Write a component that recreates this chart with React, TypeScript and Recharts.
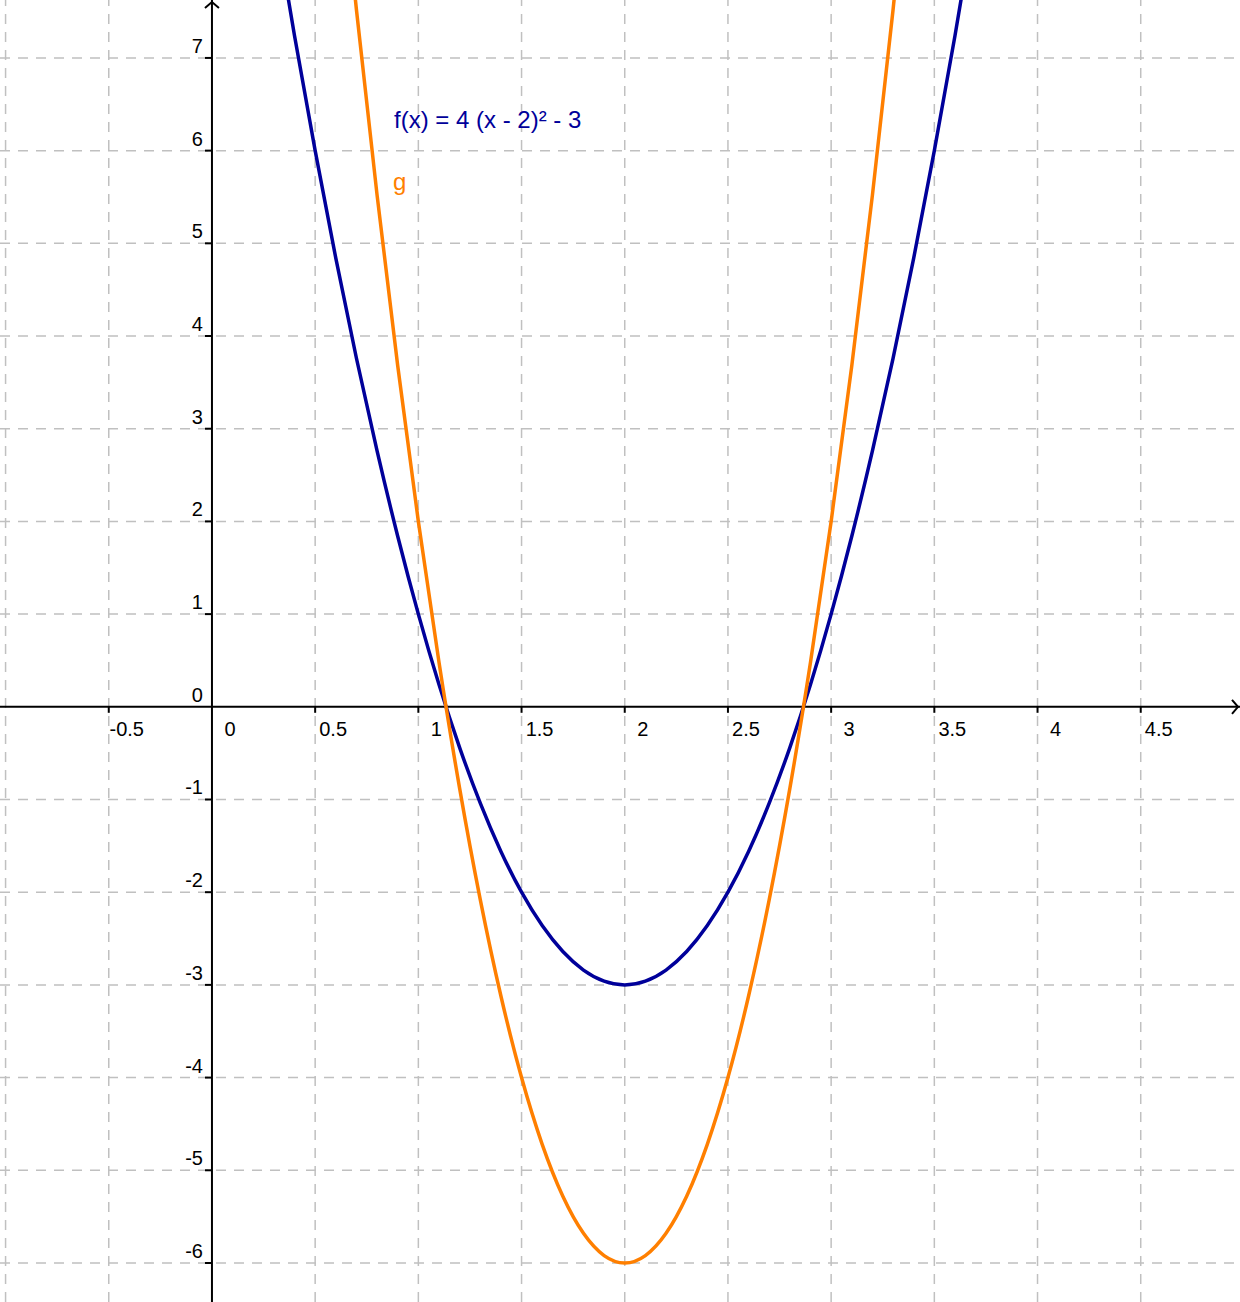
import { LineChart, Line, XAxis, YAxis, ReferenceLine, ReferenceDot } from 'recharts';

// visible window of the graph
const X_MIN = -1.027;
const X_MAX = 4.981;
const Y_MIN = -6.421;
const Y_MAX = 7.625;

const gridX = [-1, -0.5, 0.5, 1, 1.5, 2, 2.5, 3, 3.5, 4, 4.5];
const gridY = [-6, -5, -4, -3, -2, -1, 1, 2, 3, 4, 5, 6, 7];
const xTickLabels = [-0.5, 0, 0.5, 1, 1.5, 2, 2.5, 3, 3.5, 4, 4.5];
const yTickLabels = [-6, -5, -4, -3, -2, -1, 0, 1, 2, 3, 4, 5, 6, 7];

// f(x) = 4 (x - 2)² - 3
const fX = [0.3, 0.4, 0.5, 0.6, 0.7, 0.8, 0.9, 1.0, 1.1, 1.2, 1.3, 1.4, 1.5, 1.6, 1.7, 1.8, 1.9, 2.0,
  2.1, 2.2, 2.3, 2.4, 2.5, 2.6, 2.7, 2.8, 2.9, 3.0, 3.1, 3.2, 3.3, 3.4, 3.5, 3.6, 3.7];
const fY = [8.56, 7.24, 6, 4.84, 3.76, 2.76, 1.84, 1, 0.24, -0.44, -1.04, -1.56, -2, -2.36, -2.64, -2.84, -2.96, -3,
  -2.96, -2.84, -2.64, -2.36, -2, -1.56, -1.04, -0.44, 0.24, 1, 1.84, 2.76, 3.76, 4.84, 6, 7.24, 8.56];

// g, the orange curve
const gX = [0.6, 0.7, 0.8, 0.9, 1.0, 1.1, 1.2, 1.3, 1.4, 1.5, 1.6, 1.7, 1.8, 1.9, 2.0,
  2.1, 2.2, 2.3, 2.4, 2.5, 2.6, 2.7, 2.8, 2.9, 3.0, 3.1, 3.2, 3.3, 3.4];
const gY = [9.68, 7.52, 5.52, 3.68, 2, 0.48, -0.88, -2.08, -3.12, -4, -4.72, -5.28, -5.68, -5.92, -6,
  -5.92, -5.68, -5.28, -4.72, -4, -3.12, -2.08, -0.88, 0.48, 2, 3.68, 5.52, 7.52, 9.68];

const fLabel = { x: 0.882, y: 6.245, text: 'f(x) = 4 (x - 2)² - 3' };
const gLabel = { x: 0.877, y: 5.574, text: 'g' };

const BLUE = '#00009a';
const ORANGE = '#ff7f00';
const GRID = '#c0c0c0';
const FONT = '"Liberation Sans", Arial, sans-serif';

const fData = fX.map((x, i) => ({ x, y: fY[i] }));
const gData = gX.map((x, i) => ({ x, y: gY[i] }));

export default function App() {
  return (
    <div style={{ position: 'absolute', left: 0, top: 0, width: 1240, height: 1302, background: '#fff' }}>
      <LineChart width={1240} height={1302} margin={{ top: 0, right: 0, bottom: 0, left: 0 }}>
        <XAxis type="number" dataKey="x" domain={[X_MIN, X_MAX]} allowDataOverflow hide />
        <YAxis type="number" dataKey="y" domain={[Y_MIN, Y_MAX]} allowDataOverflow hide />

        {/* dashed grid */}
        {gridX.map((v) => (
          <ReferenceLine key={'gx' + v} x={v} stroke={GRID} strokeWidth={1.5} strokeDasharray="10 8" />
        ))}
        {gridY.map((v) => (
          <ReferenceLine key={'gy' + v} y={v} stroke={GRID} strokeWidth={1.5} strokeDasharray="10 8" />
        ))}

        {/* axes through the origin */}
        <ReferenceLine y={0} stroke="#000" strokeWidth={2} />
        <ReferenceLine x={0} stroke="#000" strokeWidth={2} />

        {/* x tick marks and labels */}
        {xTickLabels.map((t) => (
          <ReferenceDot
            key={'xt' + t}
            x={t}
            y={0}
            r={0}
            shape={(p: any) => (
              <g>
                {t !== 0 && <line x1={p.cx} y1={p.cy} x2={p.cx} y2={p.cy + 6} stroke="#000" strokeWidth={2} />}
                <text x={p.cx + 18} y={p.cy + 29} textAnchor="middle" fontFamily={FONT} fontSize={20} fill="#000">
                  {String(t)}
                </text>
              </g>
            )}
          />
        ))}

        {/* y tick marks and labels */}
        {yTickLabels.map((t) => (
          <ReferenceDot
            key={'yt' + t}
            x={0}
            y={t}
            r={0}
            shape={(p: any) => (
              <g>
                {t !== 0 && <line x1={p.cx - 7} y1={p.cy} x2={p.cx} y2={p.cy} stroke="#000" strokeWidth={2} />}
                <text x={p.cx - 9} y={p.cy - 5} textAnchor="end" fontFamily={FONT} fontSize={20} fill="#000">
                  {String(t)}
                </text>
              </g>
            )}
          />
        ))}

        {/* arrow heads */}
        <ReferenceDot
          x={X_MAX}
          y={0}
          r={0}
          shape={(p: any) => (
            <path d={`M${p.cx - 8},${p.cy - 7} L${p.cx - 2},${p.cy} L${p.cx - 8},${p.cy + 7}`} fill="none" stroke="#000" strokeWidth={2} />
          )}
        />
        <ReferenceDot
          x={0}
          y={Y_MAX}
          r={0}
          shape={(p: any) => (
            <path d={`M${p.cx - 7},${p.cy + 8} L${p.cx},${p.cy + 2} L${p.cx + 7},${p.cy + 8}`} fill="none" stroke="#000" strokeWidth={2} />
          )}
        />

        <Line data={fData} dataKey="y" type="monotone" stroke={BLUE} strokeWidth={3.5} dot={false} isAnimationActive={false} />
        <Line data={gData} dataKey="y" type="monotone" stroke={ORANGE} strokeWidth={3.5} dot={false} isAnimationActive={false} />

        {/* function labels */}
        <ReferenceDot
          x={fLabel.x}
          y={fLabel.y}
          r={0}
          shape={(p: any) => (
            <text x={p.cx} y={p.cy} fontFamily={FONT} fontSize={24} fill={BLUE}>{fLabel.text}</text>
          )}
        />
        <ReferenceDot
          x={gLabel.x}
          y={gLabel.y}
          r={0}
          shape={(p: any) => (
            <text x={p.cx} y={p.cy} fontFamily={FONT} fontSize={24} fill={ORANGE}>{gLabel.text}</text>
          )}
        />
      </LineChart>
    </div>
  );
}
